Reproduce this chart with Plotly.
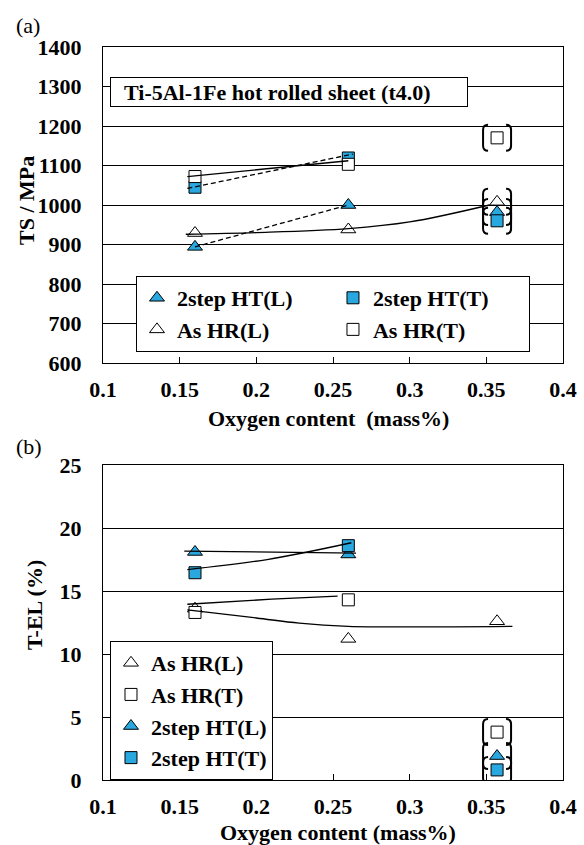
import plotly.graph_objects as go

# ---------------- data ----------------
oxygen = [0.16, 0.26, 0.357]          # mass%

# (a) tensile strength, MPa
ts_2step_L = [894, 1000, 982]
ts_2step_T = [1045, 1119, 960]
ts_asHR_L = [929, 938, 1008]
ts_asHR_T = [1072, 1103, 1170]

# (b) total elongation, %
el_2step_L = [18.1, 17.9, 1.9]
el_2step_T = [16.45, 18.6, 0.8]
el_asHR_L = [13.6, 11.2, 12.6]
el_asHR_T = [13.3, 14.3, 3.8]

# points shown in brackets
ts_br_2step_L = [False, False, True]
ts_br_2step_T = [False, False, True]
ts_br_asHR_L = [False, False, True]
ts_br_asHR_T = [False, False, True]
el_br_2step_L = [False, False, True]
el_br_2step_T = [False, False, True]
el_br_asHR_L = [False, False, False]
el_br_asHR_T = [False, False, True]

# trend lines
ts_tr_2step_L_x = [0.16, 0.26]
ts_tr_2step_L_y = [894, 1000]
ts_tr_2step_T_x = [0.155, 0.263]
ts_tr_2step_T_y = [1042, 1129]
ts_tr_asHR_T_x = [0.155, 0.26]
ts_tr_asHR_T_y = [1072, 1112]
ts_tr_asHR_L_x = [0.154, 0.2, 0.26, 0.3, 0.352]
ts_tr_asHR_L_y = [926, 930, 940, 957, 1000]

el_tr_asHR_L_x = [0.155, 0.2, 0.228, 0.26, 0.3, 0.367]
el_tr_asHR_L_y = [13.5, 12.86, 12.45, 12.2, 12.15, 12.2]
el_tr_asHR_T_x = [0.155, 0.21, 0.253]
el_tr_asHR_T_y = [13.95, 14.35, 14.6]
el_tr_2step_L_x = [0.153, 0.265]
el_tr_2step_L_y = [18.17, 18.0]
el_tr_2step_T_x = [0.155, 0.207, 0.262]
el_tr_2step_T_y = [16.7, 17.5, 18.83]

x_tickvals = [0.1, 0.15, 0.2, 0.25, 0.3, 0.35, 0.4]
x_ticktext = ["0.1", "0.15", "0.2", "0.25", "0.3", "0.35", "0.4"]

# ---------------- styling ----------------
BLUE = "#29A8E0"
FONT = "Liberation Serif, Times New Roman, serif"
FS = 22
bold = dict(family=FONT, size=FS, color="black", weight="bold")
plain = dict(family=FONT, size=FS, color="black")

series = [
    # name, ts, el, ts brackets, el brackets, symbol, fill, bottom-legend rank
    ("2step HT(L)", ts_2step_L, el_2step_L, ts_br_2step_L, el_br_2step_L, "triangle-up", BLUE, 3),
    ("2step HT(T)", ts_2step_T, el_2step_T, ts_br_2step_T, el_br_2step_T, "square", BLUE, 4),
    ("As HR(L)", ts_asHR_L, el_asHR_L, ts_br_asHR_L, el_br_asHR_L, "triangle-up", "white", 1),
    ("As HR(T)", ts_asHR_T, el_asHR_T, ts_br_asHR_T, el_br_asHR_T, "square", "white", 2),
]

fig = go.Figure()

for name, ts, el, tb, eb, sym, fill, rank in series:
    size = 12 if sym == "square" else 13
    mk = dict(symbol=sym, size=size, color=fill, line=dict(color="black", width=1))
    fig.add_trace(go.Scatter(x=oxygen, y=ts, mode="markers", name=name, marker=mk,
                             xaxis="x", yaxis="y", legend="legend"))
    fig.add_trace(go.Scatter(x=oxygen, y=el, mode="markers", name=name, marker=mk,
                             xaxis="x2", yaxis="y2", legend="legend2", legendrank=rank))

def trend(x, y, ax, ay, dash="solid"):
    fig.add_trace(go.Scatter(x=x, y=y, mode="lines", showlegend=False, hoverinfo="skip",
                             line=dict(color="black", width=1.3, dash=dash, shape="spline"),
                             xaxis=ax, yaxis=ay))

trend(ts_tr_2step_L_x, ts_tr_2step_L_y, "x", "y", "5px,3px")
trend(ts_tr_2step_T_x, ts_tr_2step_T_y, "x", "y", "5px,3px")
trend(ts_tr_asHR_T_x, ts_tr_asHR_T_y, "x", "y")
trend(ts_tr_asHR_L_x, ts_tr_asHR_L_y, "x", "y")
trend(el_tr_asHR_L_x, el_tr_asHR_L_y, "x2", "y2")
trend(el_tr_asHR_T_x, el_tr_asHR_T_y, "x2", "y2")
trend(el_tr_2step_L_x, el_tr_2step_L_y, "x2", "y2")
trend(el_tr_2step_T_x, el_tr_2step_T_y, "x2", "y2")

# brackets around bracketed points (pixel-sized shapes anchored at the data)
LB = "M -9,13 Q -14,13 -14,8 L -14,-8 Q -14,-13 -9,-13"
RB = "M 9,13 Q 14,13 14,8 L 14,-8 Q 14,-13 9,-13"
shapes = []
for name, ts, el, tb, eb, sym, fill, rank in series:
    for vals, flags, xr, yr in ((ts, tb, "x", "y"), (el, eb, "x2", "y2")):
        for xi, v, b in zip(oxygen, vals, flags):
            if not b:
                continue
            for p in (LB, RB):
                shapes.append(dict(type="path", path=p, xref=xr, yref=yr,
                                   xsizemode="pixel", ysizemode="pixel",
                                   xanchor=xi, yanchor=v,
                                   line=dict(color="black", width=2)))

axis_common = dict(showline=True, mirror=True, linecolor="black", linewidth=1,
                   zeroline=False, tickfont=bold, automargin=False)
xcommon = dict(axis_common, range=[0.1, 0.4], tickmode="array", tickvals=x_tickvals,
               ticktext=x_ticktext, ticks="inside", ticklen=6, tickcolor="black",
               showgrid=False, ticklabelstandoff=7)
ycommon = dict(axis_common, showgrid=True, gridcolor="black", gridwidth=1, ticks="",
               ticklabelstandoff=16)

def note(text, x, y, font, angle=0, **kw):
    d = dict(text=text, xref="paper", yref="paper", x=x, y=y, xanchor="center",
             yanchor="middle", showarrow=False, font=font, textangle=angle)
    d.update(kw)
    return d

fig.update_layout(
    width=584, height=845,
    margin=dict(l=103, r=21, t=47, b=65, autoexpand=False),
    paper_bgcolor="white", plot_bgcolor="white",
    font=plain,
    showlegend=True,
    xaxis=dict(xcommon, anchor="y", domain=[0, 1]),
    yaxis=dict(ycommon, anchor="x", domain=[0.5689, 1], range=[600, 1400], dtick=100),
    xaxis2=dict(xcommon, anchor="y2", domain=[0, 1]),
    yaxis2=dict(ycommon, anchor="x2", domain=[0, 0.4297], range=[0, 25], dtick=5),
    legend=dict(orientation="h", x=0.0717, y=0.6876, xanchor="left", yanchor="top",
                entrywidth=151, entrywidthmode="pixels", bgcolor="white",
                bordercolor="black", borderwidth=1, font=bold, traceorder="normal"),
    legend2=dict(orientation="v", x=0.0152, y=0.1896, xanchor="left", yanchor="top",
                 bgcolor="white", bordercolor="black", borderwidth=1, font=bold,
                 traceorder="normal"),
    shapes=shapes,
    annotations=[
        note("(a)", -0.163, 1.0287, plain),
        note("(b)", -0.161, 0.4543, plain),
        note("TS / MPa", -0.165, 0.790, bold, angle=-90),
        note("T-EL (%)", -0.150, 0.2387, bold, angle=-90),
        note("Oxygen content\u00a0 (mass%)", 0.49, 0.4925, bold),
        note("Oxygen content (mass%)", 0.51, -0.0723, bold),
        dict(text="\u00a0\u00a0Ti-5Al-1Fe hot rolled sheet (t4.0)", xref="paper", yref="paper",
             x=0.0152, y=0.959, xanchor="left", yanchor="top", showarrow=False,
             width=352, height=24, align="left", valign="middle",
             bgcolor="white", bordercolor="black", borderwidth=1, borderpad=2,
             font=bold),
    ],
)

fig.write_html("out.html")
